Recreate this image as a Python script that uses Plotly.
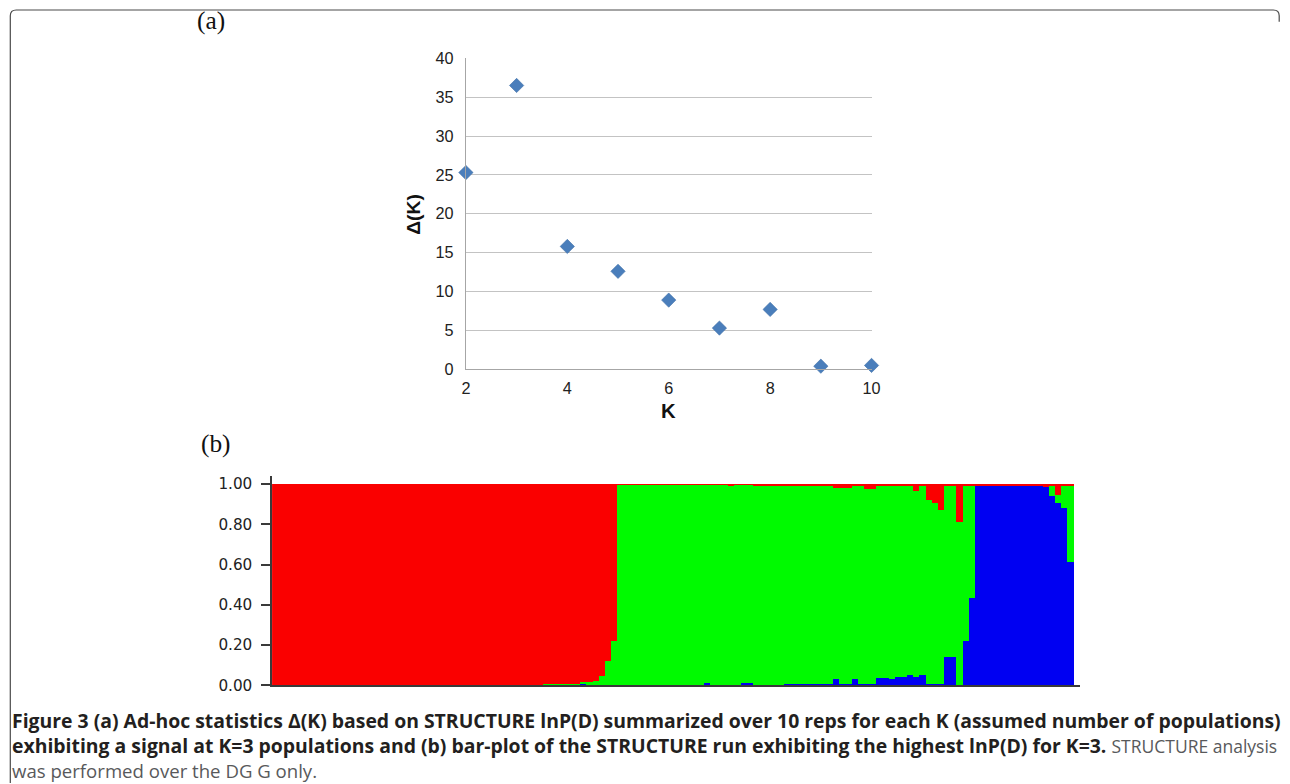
import plotly.graph_objects as go

W, H = 1290, 784

# The photographed picture shows the page slightly scaled and offset:
# picture = S * page + C.  Positions below are given in reference-picture
# pixels and converted back to page pixels.
SX, CX = 0.99, 3.7
SY, CY = 0.98, 7.6
FS = 1.015  # font / marker size compensation

# ---------------- Panel (a) data ----------------
k_values = [2, 3, 4, 5, 6, 7, 8, 9, 10]
delta_k = [25.3, 36.5, 15.8, 12.6, 8.9, 5.3, 7.7, 0.4, 0.5]
a_xticks = [2, 4, 6, 8, 10]
a_yticks = [0, 5, 10, 15, 20, 25, 30, 35, 40]

# ---------------- Panel (b) data (130 individuals, K=3) ----------------
red_q = (
    [1.0] * 44
    + [0.992, 0.992, 0.992, 0.992, 0.992, 0.992, 0.984, 0.985, 0.98, 0.955, 0.88, 0.78]
    + [0.003] * 14
    + [0.003, 0.003, 0.003, 0.003, 0.01, 0.003, 0.003, 0.003, 0.01, 0.005,
       0.01, 0.01, 0.01, 0.01, 0.01, 0.01, 0.01, 0.01, 0.01, 0.01, 0.01,
       0.018, 0.02, 0.02, 0.005, 0.008, 0.025, 0.025, 0.005, 0.01, 0.005,
       0.01, 0.01, 0.005, 0.035, 0.005, 0.08, 0.095, 0.13, 0.005, 0.005,
       0.19, 0.005, 0.005]
    + [0.005] * 10
    + [0.01, 0.015, 0.01, 0.055, 0.01, 0.01]
)
green_q = (
    [0.0] * 44
    + [0.008, 0.008, 0.008, 0.008, 0.008, 0.008, 0.008, 0.015, 0.02, 0.045, 0.12, 0.22]
    + [0.997] * 14
    + [0.987, 0.997, 0.997, 0.997, 0.99, 0.997, 0.987, 0.987, 0.99, 0.995,
       0.99, 0.99, 0.99, 0.985, 0.985, 0.985, 0.985, 0.985, 0.985, 0.985, 0.985,
       0.952, 0.975, 0.975, 0.965, 0.987, 0.97, 0.97, 0.96, 0.955, 0.965,
       0.95, 0.95, 0.945, 0.925, 0.945, 0.915, 0.9, 0.865, 0.855, 0.855,
       0.81, 0.775, 0.56]
    + [0.0] * 10
    + [0.0, 0.0, 0.05, 0.04, 0.11, 0.375]
)
blue_q = (
    [0.0] * 44
    + [0.0, 0.0, 0.0, 0.0, 0.0, 0.0, 0.008, 0.0, 0.0, 0.0, 0.0, 0.0]
    + [0.0] * 14
    + [0.01, 0.0, 0.0, 0.0, 0.0, 0.0, 0.01, 0.01, 0.0, 0.0,
       0.0, 0.0, 0.0, 0.005, 0.005, 0.005, 0.005, 0.005, 0.005, 0.005, 0.005,
       0.03, 0.005, 0.005, 0.03, 0.005, 0.005, 0.005, 0.035, 0.035, 0.03,
       0.04, 0.04, 0.05, 0.04, 0.05, 0.005, 0.005, 0.005, 0.14, 0.14,
       0.0, 0.22, 0.435]
    + [0.995] * 10
    + [0.99, 0.985, 0.94, 0.905, 0.88, 0.615]
)
individuals = list(range(len(red_q)))
b_yticks = [0.0, 0.2, 0.4, 0.6, 0.8, 1.0]
b_yticklabels = ["0.00", "0.20", "0.40", "0.60", "0.80", "1.00"]


def px_x(r):
    return ((r - CX) / SX) / W


def px_y(r):
    return 1 - ((r - CY) / SY) / H


fig = go.Figure()

# Panel (a)
fig.add_trace(go.Scatter(
    x=k_values, y=delta_k, mode="markers",
    marker=dict(symbol="diamond", size=11, color="#4a7ebb",
                line=dict(width=0.6, color="#3d6da6")),
    xaxis="x", yaxis="y", cliponaxis=False, showlegend=False,
))

# Panel (b) stacked bars: blue bottom, green middle, red top
for vals, col in [(blue_q, "#0000f2"), (green_q, "#00fa00"), (red_q, "#fa0000")]:
    fig.add_trace(go.Bar(
        x=individuals, y=vals, width=1.0,
        marker=dict(color=col, line=dict(width=0)),
        xaxis="x2", yaxis="y2", showlegend=False,
    ))

tick_font_a = dict(family="Liberation Sans, Arial, sans-serif", size=16 * FS, color="#222")
tick_font_b = dict(family="DejaVu Sans, Verdana, sans-serif", size=15 * FS, color="#222")

fig.update_layout(
    width=W, height=H,
    margin=dict(l=0, r=0, t=0, b=0),
    paper_bgcolor="white", plot_bgcolor="rgba(0,0,0,0)",
    barmode="stack", bargap=0,
    xaxis=dict(
        domain=[px_x(465), px_x(871)], range=[2, 10],
        tickvals=a_xticks, showgrid=False, zeroline=False,
        showline=True, linecolor="#a6a6a6", linewidth=1,
        ticks="", tickfont=tick_font_a, ticklabelstandoff=4,
        anchor="y",
    ),
    yaxis=dict(
        domain=[px_y(369), px_y(57)], range=[0, 40],
        tickvals=a_yticks, showgrid=True, gridcolor="#c3c3c3", gridwidth=1,
        zeroline=False, showline=True, linecolor="#a6a6a6", linewidth=1,
        ticks="", tickfont=tick_font_a, ticklabelstandoff=8,
        anchor="x",
    ),
    xaxis2=dict(
        domain=[px_x(271), px_x(1080)], range=[-0.5, 130.6],
        showticklabels=False, showgrid=False, zeroline=False,
        showline=True, linecolor="#3a3a3a", linewidth=1.5, ticks="",
        anchor="y2",
    ),
    yaxis2=dict(
        domain=[px_y(686), px_y(476)], range=[0, 1.04],
        tickvals=b_yticks, ticktext=b_yticklabels,
        showgrid=False, zeroline=False,
        showline=True, linecolor="#3a3a3a", linewidth=1.5,
        ticks="outside", ticklen=9, tickcolor="#3a3a3a", tickwidth=1.5,
        tickfont=tick_font_b, ticklabelstandoff=6,
        anchor="x2",
    ),
)

ann = []
# panel labels
ann.append(dict(x=px_x(210), y=px_y(19), text="(a)", showarrow=False,
                xref="paper", yref="paper", xanchor="center", yanchor="middle",
                font=dict(family="Liberation Serif, Times New Roman, serif", size=25 * FS, color="#111")))
ann.append(dict(x=px_x(215), y=px_y(443), text="(b)", showarrow=False,
                xref="paper", yref="paper", xanchor="center", yanchor="middle",
                font=dict(family="Liberation Serif, Times New Roman, serif", size=25 * FS, color="#111")))
# axis titles panel (a)
ann.append(dict(x=px_x(413), y=px_y(213), text="<b>Δ(K)</b>", showarrow=False, textangle=-90,
                xref="paper", yref="paper", xanchor="center", yanchor="middle",
                font=dict(family="Liberation Sans, Arial, sans-serif", size=19 * FS, color="#111")))
ann.append(dict(x=px_x(668), y=px_y(411), text="<b>K</b>", showarrow=False,
                xref="paper", yref="paper", xanchor="center", yanchor="middle",
                font=dict(family="Liberation Sans, Arial, sans-serif", size=20 * FS, color="#111")))

# caption (one text block, three lines)
reg2 = '<span style="color:#58595b;font-size:17.5px">%s</span>'
reg3 = '<span style="color:#58595b;font-size:18.6px">%s</span>'
caption = (
    "<b>Figure 3 (a) Ad-hoc statistics Δ(K) based on STRUCTURE lnP(D) summarized over 10 reps "
    "for each K (assumed number of populations)</b><br>"
    "<b>exhibiting a signal at K=3 populations and (b) bar-plot of the STRUCTURE run exhibiting "
    "the highest lnP(D) for K=3.</b> " + reg2 % "STRUCTURE analysis" + "<br>"
    + reg3 % "was performed over the DG G only."
)
ann.append(dict(x=px_x(8.5), y=px_y(745.5), text=caption, showarrow=False, align="left",
                xref="paper", yref="paper", xanchor="left", yanchor="middle",
                font=dict(family="Open Sans, Noto Sans, sans-serif", size=19.4, color="#231f20")))
fig.update_layout(annotations=ann)

# outer frame (top and left edges with rounded corners)
x0, x1, y0, y1, r = px_x(9), px_x(1279), px_y(8.6), px_y(784), 6
rx, ry = r / W, r / H
path = (f"M {x0},{y1} L {x0},{y0 - ry} Q {x0},{y0} {x0 + rx},{y0} "
        f"L {x1 - rx},{y0} Q {x1},{y0} {x1},{y0 - ry} L {x1},{y0 - 2 * ry}")
fig.add_shape(type="path", path=path, xref="paper", yref="paper",
              line=dict(color="#4a4a4a", width=1.2))

fig.write_html(
    "out.html",
    config={"displayModeBar": False},
    post_script="document.body.style.margin='0';document.body.style.overflow='hidden';",
)
